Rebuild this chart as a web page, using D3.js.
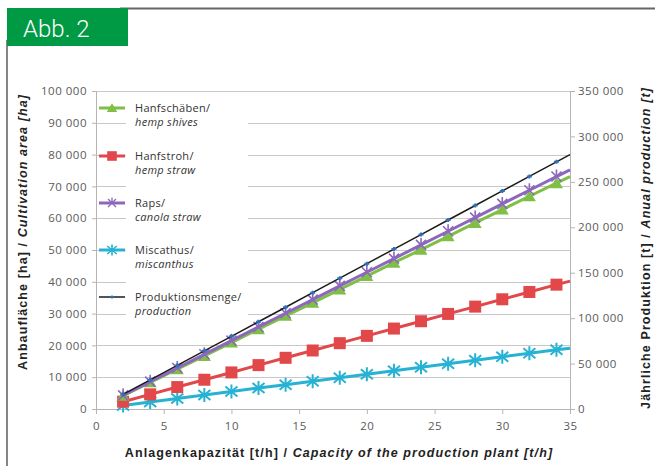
<!DOCTYPE html>
<html>
<head>
<meta charset="utf-8">
<script src="https://cdn.jsdelivr.net/npm/d3@7"></script>
<style>
  body { margin: 0; background: #fff; }
  svg { display: block; }
</style>
</head>
<body>
<div id="chart"></div>
<script>
// capacity [t/h]; markers sit on the even values, the line runs on to 35
const capacity = [2, 4, 6, 8, 10, 12, 14, 16, 18, 20, 22, 24, 26, 28, 30, 32, 34, 35];

// cultivation area [ha]
const hempShives = [4200, 8400, 12500, 16700, 20900, 25100, 29300, 33400, 37600, 41800, 46000, 50100, 54300, 58500, 62700, 66900, 71000, 73100];
const hempStraw = [2300, 4600, 6900, 9200, 11500, 13800, 16100, 18400, 20700, 23000, 25300, 27600, 29900, 32200, 34500, 36800, 39100, 40200];
const canolaStraw = [4300, 8600, 12900, 17200, 21500, 25800, 30100, 34400, 38700, 43000, 47300, 51600, 55900, 60200, 64500, 68800, 73100, 75200];
const miscanthus = [1100, 2200, 3300, 4400, 5500, 6600, 7600, 8700, 9800, 10900, 12000, 13100, 14200, 15300, 16400, 17500, 18600, 19100];

// annual production [t] (right axis)
const production = [16000, 32000, 48000, 64000, 80000, 96000, 112000, 128000, 144000, 160000, 176000, 192000, 208000, 224000, 240000, 256000, 272000, 280000];

const xTicks = [0, 5, 10, 15, 20, 25, 30, 35];
const yLeftTicks = [0, 10000, 20000, 30000, 40000, 50000, 60000, 70000, 80000, 90000, 100000];
const yRightTicks = [0, 50000, 100000, 150000, 200000, 250000, 300000, 350000];

const legendDe = ['Hanfschäben/', 'Hanfstroh/', 'Raps/', 'Miscathus/', 'Produktionsmenge/'];
const legendEn = ['hemp shives', 'hemp straw', 'canola straw', 'miscanthus', 'production'];

const w = 655, h = 466;
const padL = 96, padR = 570, padT = 91, padB = 409;

const svg = d3.select('#chart').append('svg')
  .attr('width', w)
  .attr('height', h);

// frame + label box
svg.append('line').attr('x1', 120).attr('x2', w).attr('y1', 8.5).attr('y2', 8.5)
  .attr('stroke', '#666').attr('stroke-width', 2);
svg.append('line').attr('x1', 7).attr('x2', 7).attr('y1', 40).attr('y2', h)
  .attr('stroke', '#444').attr('stroke-width', 1.3);
svg.append('rect').attr('x', 7).attr('y', 8).attr('width', 121).attr('height', 38)
  .attr('fill', '#009a44');
svg.append('text').attr('x', 23).attr('y', 37)
  .attr('fill', '#fff')
  .style('font-family', 'Roboto, Liberation Sans, sans-serif')
  .style('font-weight', 300)
  .style('font-size', '24px')
  .text('Abb. 2');

const x = d3.scaleLinear().domain([0, 35]).range([padL, padR]);
const yL = d3.scaleLinear().domain([0, 100000]).range([padB, padT]);
const yR = d3.scaleLinear().domain([0, 350000]).range([padB, padT]);

const fmt = (d) => d3.format(',')(d).replace(/,/g, ' ');
const tickFont = (g) => g.selectAll('text')
  .style('font-family', 'Open Sans, sans-serif')
  .style('font-size', '11.5px')
  .style('letter-spacing', '0.5px')
  .attr('fill', '#5a5a5a');

// gridlines
svg.append('g')
  .selectAll('line')
  .data(yLeftTicks.slice(1))
  .enter()
  .append('line')
  .attr('x1', padL).attr('x2', padR)
  .attr('y1', (d) => Math.round(yL(d)) + 0.5)
  .attr('y2', (d) => Math.round(yL(d)) + 0.5)
  .attr('stroke', '#c8c8c8')
  .attr('stroke-width', 1.2);

// axes
const axisStyle = (g) => {
  g.selectAll('path, line').attr('stroke', '#b5b5b5');
  tickFont(g);
};

svg.append('g')
  .attr('transform', 'translate(0,' + padB + ')')
  .call(d3.axisBottom(x).tickValues(xTicks).tickSizeOuter(0).tickSize(5).tickPadding(6))
  .call(axisStyle)
  .selectAll('text').attr('dy', '0.9em');

svg.append('g')
  .attr('transform', 'translate(' + padL + ',0)')
  .call(d3.axisLeft(yL).tickValues(yLeftTicks).tickFormat(fmt).tickSizeOuter(0).tickSize(4).tickPadding(5))
  .call(axisStyle);

svg.append('g')
  .attr('transform', 'translate(' + padR + ',0)')
  .call(d3.axisRight(yR).tickValues(yRightTicks).tickFormat(fmt).tickSizeOuter(0).tickSize(5).tickPadding(3))
  .call(axisStyle);

// axis titles
const titleFont = (t) => t
  .style('font-family', 'Liberation Sans, Arial, sans-serif')
  .style('font-size', '12.5px')
  .style('font-weight', 'bold')
  .style('letter-spacing', '1.1px')
  .attr('fill', '#222');

const xTitle = svg.append('text')
  .attr('x', 339).attr('y', 457)
  .attr('text-anchor', 'middle')
  .call(titleFont);
xTitle.append('tspan').text('Anlagenkapazität [t/h] / ');
xTitle.append('tspan').style('font-style', 'italic').text('Capacity of the production plant [t/h]');

const yTitle = svg.append('text')
  .attr('transform', 'translate(27,232) rotate(-90)')
  .attr('text-anchor', 'middle')
  .call(titleFont);
yTitle.append('tspan').text('Anbaufläche [ha] / ');
yTitle.append('tspan').style('font-style', 'italic').text('Cultivation area [ha]');

const yRTitle = svg.append('text')
  .attr('transform', 'translate(650,248) rotate(-90)')
  .attr('text-anchor', 'middle')
  .call(titleFont);
yRTitle.append('tspan').text('Jährliche Produktion [t] / ');
yRTitle.append('tspan').style('font-style', 'italic').text('Anual production [t]');

// legend background (covers gridlines behind the text)
svg.append('rect')
  .attr('x', 126).attr('y', 96)
  .attr('width', 122).attr('height', 222)
  .attr('fill', '#fff');

// series
const series = [
  { name: 'shives', values: hempShives, color: '#7fbf45', width: 3, marker: 'tri', scale: yL },
  { name: 'straw', values: hempStraw, color: '#e2484a', width: 3, marker: 'sq', scale: yL },
  { name: 'canola', values: canolaStraw, color: '#8c68bd', width: 3, marker: 'x', scale: yL },
  { name: 'misc', values: miscanthus, color: '#27b2d3', width: 3, marker: 'star', scale: yL },
  { name: 'prod', values: production, color: '#1b1b1b', width: 1.5, marker: 'dot', scale: yR }
];

function drawMarker(g, type, color) {
  if (type === 'tri') {
    g.append('path').attr('d', 'M0,-6L6.5,5L-6.5,5Z').attr('fill', color);
  } else if (type === 'sq') {
    g.append('rect').attr('x', -6).attr('y', -6).attr('width', 12).attr('height', 12)
      .attr('fill', color);
  } else if (type === 'x') {
    g.append('path').attr('d', 'M-5,-5L5,5M5,-5L-5,5M0,-7L0,0')
      .attr('stroke', color).attr('stroke-width', 1.6).attr('fill', 'none');
  } else if (type === 'star') {
    g.append('path').attr('d', 'M-6,-5L6,5M6,-5L-6,5M0,-7L0,7')
      .attr('stroke', color).attr('stroke-width', 2).attr('fill', 'none');
  } else if (type === 'dot') {
    g.append('path').attr('d', 'M-2.5,0L2.5,0M0,-2L0,2')
      .attr('stroke', '#2f6fb7').attr('stroke-width', 2).attr('fill', 'none');
  }
}

// draw order so the production line sits on top like in the original
const order = [3, 1, 0, 2, 4];
order.forEach((i) => {
  const s = series[i];
  const pts = capacity.map((c, k) => [c, s.values[k]]);
  const line = d3.line().x((d) => x(d[0])).y((d) => s.scale(d[1]));
  svg.append('path')
    .datum(pts)
    .attr('d', line)
    .attr('fill', 'none')
    .attr('stroke', s.color)
    .attr('stroke-width', s.width)
    .attr('stroke-linejoin', 'round');
  svg.append('g')
    .selectAll('g')
    .data(pts.filter((d) => d[0] % 2 === 0))
    .enter()
    .append('g')
    .attr('transform', (d) => 'translate(' + x(d[0]) + ',' + s.scale(d[1]) + ')')
    .each(function () { drawMarker(d3.select(this), s.marker, s.color); });
});

// legend
const legendY = [108, 156, 203, 250, 297];
series.forEach((s, i) => {
  const ly = legendY[i];
  svg.append('line')
    .attr('x1', 99).attr('x2', 125)
    .attr('y1', ly).attr('y2', ly)
    .attr('stroke', s.color).attr('stroke-width', s.width);
  const mg = svg.append('g').attr('transform', 'translate(112,' + ly + ') scale(0.8)');
  drawMarker(mg, s.marker, s.color);
  const t = svg.append('text')
    .attr('x', 135).attr('y', ly + 4)
    .style('font-family', 'Open Sans, sans-serif')
    .style('font-size', '11px')
    .style('letter-spacing', '0.3px')
    .attr('fill', '#333');
  t.append('tspan').text(legendDe[i]);
  t.append('tspan').attr('x', 135).attr('dy', 14).style('font-style', 'italic').text(legendEn[i]);
});
</script>
</body>
</html>
